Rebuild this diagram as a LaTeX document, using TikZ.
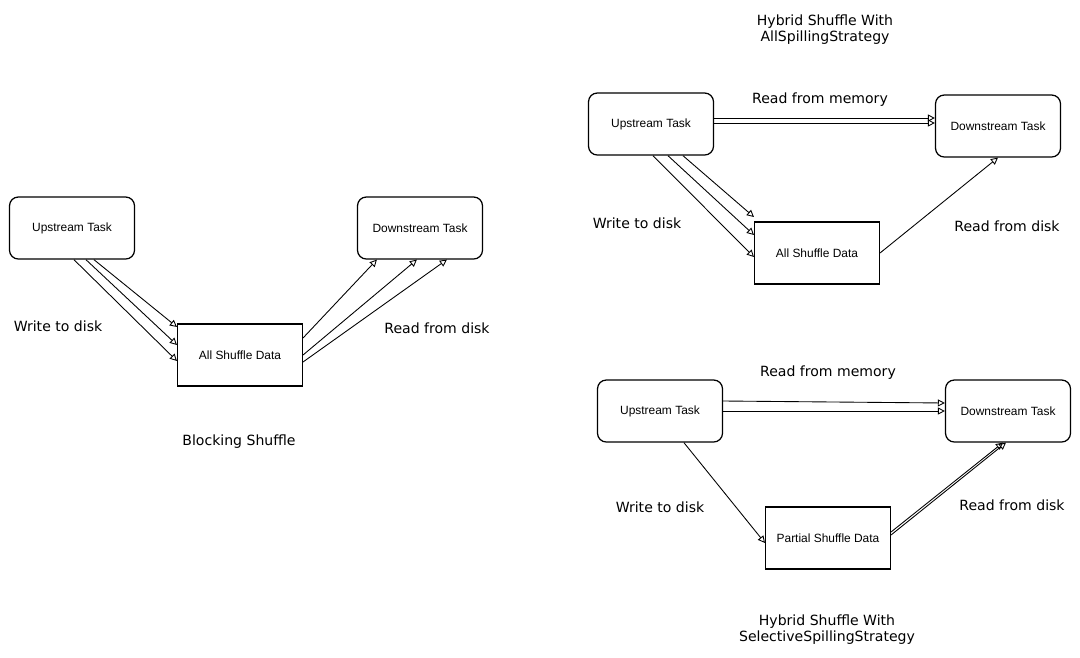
\documentclass[tikz,border=0pt]{standalone}
\usepackage{fontspec}
\setmainfont{Liberation Sans}
\newfontfamily\handfont{DejaVu Sans}
\usetikzlibrary{arrows.meta, calc}

\begin{document}
\begin{tikzpicture}[x=0.02cm, y=-0.02cm,
  task/.style={rectangle, rounded corners=5pt, draw, line width=0.7pt,
    minimum width=2.5cm, minimum height=1.24cm, align=center, font=\fontsize{6.8}{8}\selectfont},
  store/.style={rectangle, draw, line width=0.6pt,
    minimum width=2.5cm, minimum height=1.24cm, align=center, font=\fontsize{6.8}{8}\selectfont},
  note/.style={font=\handfont\fontsize{8}{9.2}\selectfont, align=center},
  flow/.style={-{Triangle[open, length=4pt, width=4pt]}, line width=0.5pt}
]
\useasboundingbox (0,0) rectangle (1080,657);

% Blocking shuffle
\node[task] (up1) at (72,228) {Upstream Task};
\node[store] (data1) at (240,355) {All Shuffle Data};
\node[task] (down1) at (420,228) {Downstream Task};
\draw[flow] ($(up1.south west)+(85,0)$) -- ($(data1.west)+(0,-28)$);
\draw[flow] ($(up1.south west)+(77,0)$) -- ($(data1.west)+(0,-10)$);
\draw[flow] ($(up1.south west)+(65,0)$) -- ($(data1.west)+(0,6)$);
\draw[flow] ($(data1.east)+(0,-17)$) -- ($(down1.south west)+(20,0)$);
\draw[flow] (data1.east) -- ($(down1.south west)+(60,0)$);
\draw[flow] ($(data1.east)+(0,7)$) -- ($(down1.south west)+(90,0)$);
\node[note] (w1) at (58,326) {Write to disk};
\node[note] (r1) at (437,328) {Read from disk};
\node[note] (t1) at (239,442) {Blocking Shuffle};

% Hybrid, all spilling
\node[task] (up2) at (651,124) {Upstream Task};
\node[store] (data2) at (817,253) {All Shuffle Data};
\node[task] (down2) at (998,126) {Downstream Task};
\draw[flow] ($(up2.east)+(0,-6)$) -- ($(down2.west)+(0,-8)$);
\draw[flow] ($(up2.east)+(0,-1)$) -- ($(down2.west)+(0,-3)$);
\draw[flow] ($(up2.south west)+(95,0)$) -- ($(data2.west)+(0,-36)$);
\draw[flow] ($(up2.south west)+(80,0)$) -- ($(data2.west)+(0,-18)$);
\draw[flow] ($(up2.south west)+(65,0)$) -- ($(data2.west)+(0,4)$);
\draw[flow] (data2.east) -- (down2.south);
\node[note] (m2) at (820,100) {Read from memory};
\node[note] (w2) at (637,223) {Write to disk};
\node[note] (r2) at (1007,226) {Read from disk};
\node[note] (t2) at (825,30) {Hybrid Shuffle With\\AllSpillingStrategy};

% Hybrid, selective spilling
\node[task] (up3) at (660,411) {Upstream Task};
\node[store] (data3) at (828,538) {Partial Shuffle Data};
\node[task] (down3) at (1008,411) {Downstream Task};
\draw[flow] ($(up3.east)+(0,-10)$) -- ($(down3.west)+(0,-8)$);
\draw[flow] (up3.east) -- (down3.west);
\draw[flow] ($(up3.south west)+(87,0)$) -- ($(data3.west)+(0,5)$);
\draw[flow] ($(data3.east)+(0,-6)$) -- ($(down3.south)+(-5,0)$);
\draw[flow] ($(data3.east)+(0,-3)$) -- ($(down3.south)+(-2,0)$);
\node[note] (m3) at (828,373) {Read from memory};
\node[note] (w3) at (660,507) {Write to disk};
\node[note] (r3) at (1012,505) {Read from disk};
\node[note] (t3) at (827,630) {Hybrid Shuffle With\\SelectiveSpillingStrategy};
\end{tikzpicture}
\end{document}
